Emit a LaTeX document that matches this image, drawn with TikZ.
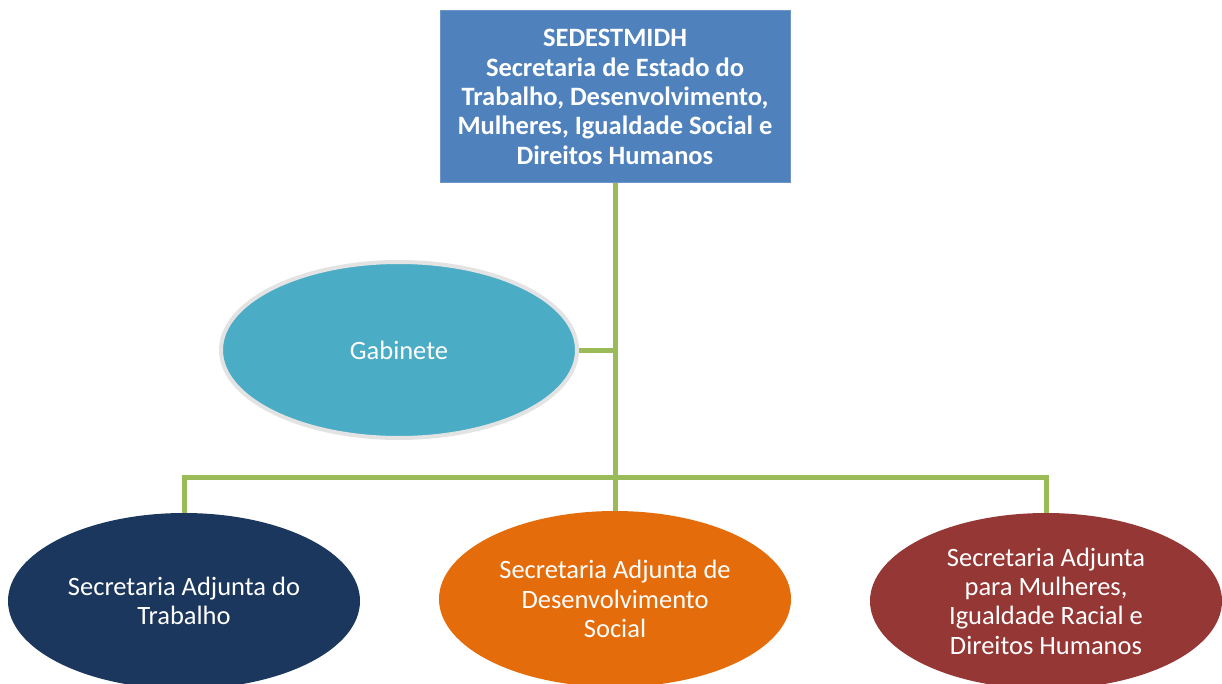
\documentclass[tikz,border=0pt]{standalone}
\usepackage{fontspec}
\setmainfont{Carlito}
\usetikzlibrary{shapes.geometric}
\definecolor{topblue}{HTML}{4F81BD}
\definecolor{topedge}{HTML}{6E95C8}
\definecolor{gabblue}{HTML}{4BACC6}
\definecolor{gabedge}{HTML}{E3E3E3}
\definecolor{navy}{HTML}{1B375E}
\definecolor{orng}{HTML}{E46C0A}
\definecolor{brick}{HTML}{953735}
\definecolor{lgreen}{HTML}{9BBB59}
\tikzset{
  x=1pt, y=1pt,
  txt/.style={text=white, align=center, font=\fontsize{26.5}{29.3}\selectfont},
  topbox/.style={txt, font=\fontsize{26.5}{29.3}\selectfont\bfseries, fill=topblue, draw=topedge, line width=1pt,
    minimum width=350pt, minimum height=172pt, inner sep=0pt},
  oval/.style={txt, ellipse, inner sep=0pt, minimum width=352pt, minimum height=176pt},
  conn/.style={draw=lgreen, line width=5pt}
}
\begin{document}
\begin{tikzpicture}
\useasboundingbox (0,0) rectangle (1222,-684);
\clip (0,0) rectangle (1222,-684);
\node[topbox] (top) at (615,-97) {SEDESTMIDH\\Secretaria de Estado do\\Trabalho, Desenvolvimento,\\Mulheres, Igualdade Social e\\Direitos Humanos};
\coordinate (j) at (615,-477);
\node[oval, fill=gabblue, draw=gabedge, line width=4pt, minimum width=356pt, minimum height=176pt] (gab) at (399,-350) {Gabinete};
\node[oval, fill=navy] (l) at (184,-601) {Secretaria Adjunta do\\Trabalho};
\node[oval, fill=orng] (m) at (615,-599) {Secretaria Adjunta de\\Desenvolvimento\\Social};
\node[oval, fill=brick] (r) at (1046,-601) {Secretaria Adjunta\\para Mulheres,\\Igualdade Racial e\\Direitos Humanos};
\draw[conn] (top.south) -- (j);
\draw[conn] (gab.east) -- (gab.east -| top.south);
\draw[conn] (l.north) |- (j) -| (r.north);
\draw[conn] (j) -- (m.north);
\end{tikzpicture}
\end{document}
